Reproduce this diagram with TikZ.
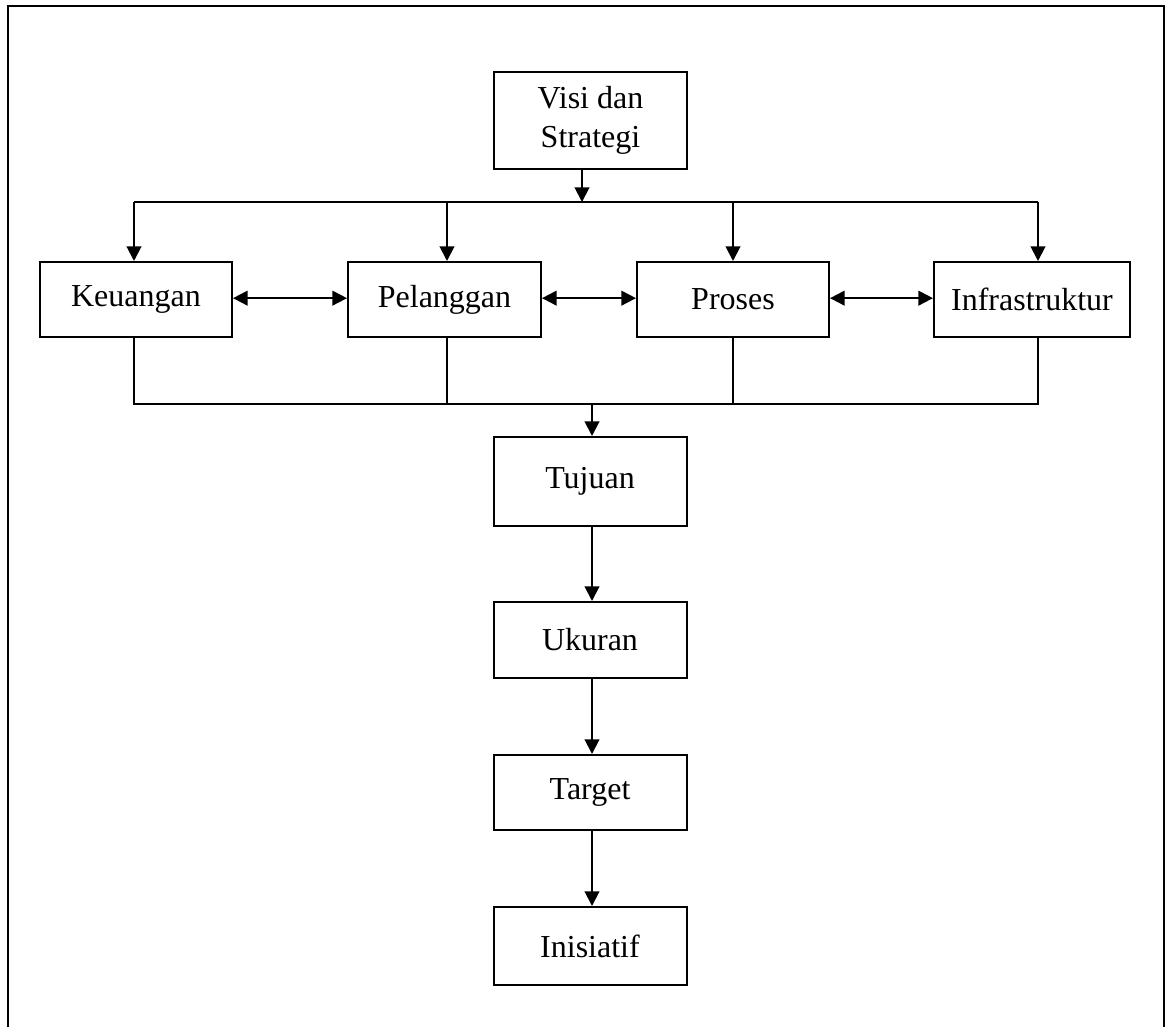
\documentclass[tikz,border=0pt]{standalone}
\usepackage{fontspec}
\setmainfont{Liberation Serif}
\usetikzlibrary{arrows.meta,calc}
\begin{document}
\begin{tikzpicture}[x=0.75pt,y=-0.75pt,
  line width=1.5pt,
  box/.style={draw,rectangle,inner sep=0pt,align=center,
    font=\fontsize{24}{29}\selectfont},
  flow/.style={-{Triangle[length=11pt,width=11pt]}},
  both/.style={{Triangle[length=11pt,width=11pt]}-{Triangle[length=11pt,width=11pt]}}]
\useasboundingbox (0,0) rectangle (1166,1027);
% open frame around the chart
\draw (8,1027) -- (8,6) -- (1164,6) -- (1164,1027);

% boxes
\node[box,minimum width=193*0.75pt,minimum height=97*0.75pt] (visi) at (590.5,120.5) {Visi dan\\Strategi};
\node[box,minimum width=192*0.75pt,minimum height=75*0.75pt] (keu) at (136,299.5) {Keuangan};
\node[box,minimum width=193*0.75pt,minimum height=75*0.75pt] (pel) at (444.5,299.5) {Pelanggan};
\node[box,minimum width=192*0.75pt,minimum height=75*0.75pt] (pro) at (733,299.5) {Proses};
\node[box,minimum width=196*0.75pt,minimum height=75*0.75pt] (inf) at (1032,299.5) {Infrastruktur};
\node[box,minimum width=193*0.75pt,minimum height=89*0.75pt] (tuj) at (590,481.5) {Tujuan};
\node[box,minimum width=193*0.75pt,minimum height=76*0.75pt] (uku) at (590,640) {Ukuran};
\node[box,minimum width=193*0.75pt,minimum height=75*0.75pt] (tar) at (590,792.5) {Target};
\node[box,minimum width=193*0.75pt,minimum height=78*0.75pt] (ini) at (590,946) {Inisiatif};

% distribution bus above the perspectives
\coordinate (busT) at (582,202);
\draw[flow] (visi.south -| busT) -- (busT);
\coordinate (tk) at (134,202);
\coordinate (tp) at (447,202);
\coordinate (tr) at (733,202);
\coordinate (ti) at (1038,202);
\draw (tk) -- (ti);
\draw[flow] (tk) -- (tk |- keu.north);
\draw[flow] (tp) -- (tp |- pel.north);
\draw[flow] (tr) -- (tr |- pro.north);
\draw[flow] (ti) -- (ti |- inf.north);

% links between perspectives
\draw[both] ([yshift=1pt]keu.east) -- ([yshift=1pt]pel.west);
\draw[both] ([yshift=1pt]pel.east) -- ([yshift=1pt]pro.west);
\draw[both] ([yshift=1pt]pro.east) -- ([yshift=1pt]inf.west);

% collecting bus below the perspectives
\coordinate (bk) at (134,404);
\coordinate (bp) at (447,404);
\coordinate (br) at (733,404);
\coordinate (bi) at (1038,404);
\coordinate (busB) at (592,404);
\draw (bk |- keu.south) -- (bk) -- (bi) -- (bi |- inf.south);
\draw (bp |- pel.south) -- (bp);
\draw (br |- pro.south) -- (br);
\draw[flow] (busB) -- (busB |- tuj.north);

% vertical chain
\draw[flow] (tuj.south -| busB) -- (uku.north -| busB);
\draw[flow] (uku.south -| busB) -- (tar.north -| busB);
\draw[flow] (tar.south -| busB) -- (ini.north -| busB);
\end{tikzpicture}
\end{document}
